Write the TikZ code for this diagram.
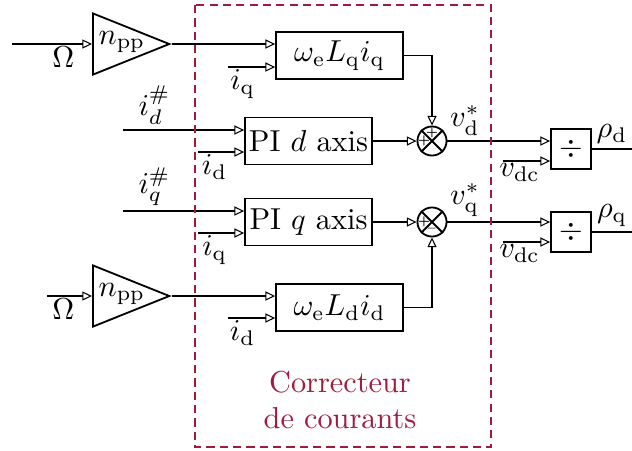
\documentclass[tikz,border=0pt]{standalone}
\usepackage{amsmath,amssymb}
\usepackage{tikz}
\usetikzlibrary{arrows.meta,positioning,calc,shapes.geometric}
\usepackage{xcolor}
\definecolor{framered}{RGB}{160,28,62}
\newcommand{\npp}{\smash{\makebox[0pt]{\kern5.4pt$n_{\mathrm{pp}}$}}}

\begin{document}
\begin{tikzpicture}[
    x=0.33pt, y=-0.33pt,
    blk/.style={
      rectangle, draw, semithick,
      minimum width=41.9pt, minimum height=15.5pt, inner sep=1pt
    },
    divbox/.style={
      rectangle, draw, semithick, minimum size=13.2pt, inner sep=0pt
    },
    gain/.style={
      isosceles triangle, isosceles triangle stretches, draw, semithick,
      minimum width=20.2pt, minimum height=25.2pt, inner sep=0pt
    },
    sumj/.style={
      circle, draw, semithick, minimum size=9.6pt, inner sep=0pt
    },
    sgn/.style={
      font=\fontsize{3.5}{4}\selectfont\bfseries, inner sep=0pt
    },
    sig/.style={
      -{Triangle[open,length=3.2pt,width=3pt,line width=0.35pt]}, semithick
    },
    wire/.style={semithick},
    lbl/.style={inner sep=1.5pt},
    lblb/.style={inner sep=0.6pt}
  ]
  \useasboundingbox (0,0) rectangle (632,450);

  % --- Upper branch: d axis ---
  \node[gain, anchor=west] (g1) at (92,44) {\npp};
  \coordinate (om1) at (12,44);
  \draw[sig] (om1) -- (g1.west)
    node[lblb, pos=0.64, below] {$\Omega$};

  \node[blk] (b1) at (339.5,55.5) {$\omega_{\mathrm{e}}L_{\mathrm{q}}i_{\mathrm{q}}$};
  \draw[sig] (g1.apex) -- (g1.apex -| b1.west);
  \coordinate (iq1) at (228,67);
  \draw[sig] (iq1) -- (iq1 -| b1.west)
    node[lblb, pos=0.31, below] {$i_{\mathrm{q}}$};

  \node[blk] (pid) at (308.5,141) {PI $d$ axis};
  \coordinate (idref) at (123,130);
  \draw[sig] (idref) -- (idref -| pid.west)
    node[lbl, pos=0.26, above] {$i_d^{\#}$};
  \coordinate (id1) at (198,152);
  \draw[sig] (id1) -- (id1 -| pid.west)
    node[lblb, pos=0.36, below] {$i_{\mathrm{d}}$};

  \node[sumj] (sd) at (432,141) {};
  \draw[wire] (sd.north west) -- (sd.south east) (sd.north east) -- (sd.south west);
  \node[sgn] (sd1) at ($(sd)+(0,-8)$) {+};
  \node[sgn] (sd2) at ($(sd)+(-8,0)$) {+};
  \draw[sig] (pid.east) -- (sd.west);
  \draw[sig] (b1.east) -| (sd.north);

  \node[divbox] (divd) at (571,149) {$\div$};
  \draw[sig] (sd.east) -- (sd.east -| divd.west)
    node[lbl, pos=0.17, above] {$v_{\mathrm{d}}^{*}$};
  \coordinate (vdc1) at (503,161);
  \draw[sig] (vdc1) -- (vdc1 -| divd.west)
    node[lblb, pos=0.35, below] {$v_{\mathrm{dc}}$};
  \coordinate (rhod) at (632,149);
  \draw[wire] (divd.east) -- (rhod)
    node[lbl, midway, above] {$\rho_{\mathrm{d}}$};

  % --- Lower branch: q axis ---
  \node[blk] (piq) at (308.5,222) {PI $q$ axis};
  \coordinate (iqref) at (123,211);
  \draw[sig] (iqref) -- (iqref -| piq.west)
    node[lbl, pos=0.26, above] {$i_q^{\#}$};
  \coordinate (iq2) at (198,233);
  \draw[sig] (iq2) -- (iq2 -| piq.west)
    node[lblb, pos=0.36, below] {$i_{\mathrm{q}}$};

  \node[gain, anchor=west] (g2) at (92,296) {\npp};
  \coordinate (om2) at (47,296);
  \draw[sig] (om2) -- (g2.west)
    node[lblb, pos=0.36, below] {$\Omega$};

  \node[blk] (b2) at (339.5,307.5) {$\omega_{\mathrm{e}}L_{\mathrm{d}}i_{\mathrm{d}}$};
  \draw[sig] (g2.apex) -- (g2.apex -| b2.west);
  \coordinate (id2) at (228,318);
  \draw[sig] (id2) -- (id2 -| b2.west)
    node[lblb, pos=0.31, below] {$i_{\mathrm{d}}$};

  \node[sumj] (sq) at (432,222) {};
  \draw[wire] (sq.north west) -- (sq.south east) (sq.north east) -- (sq.south west);
  \node[sgn] (sq1) at ($(sq)+(-8,0)$) {+};
  \node[sgn] (sq2) at ($(sq)+(0,8)$) {--};
  \draw[sig] (piq.east) -- (sq.west);
  \draw[sig] (b2.east) -| (sq.south);

  \node[divbox] (divq) at (571,232) {$\div$};
  \draw[sig] (sq.east) -- (sq.east -| divq.west)
    node[lbl, pos=0.17, above] {$v_{\mathrm{q}}^{*}$};
  \coordinate (vdc2) at (503,242);
  \draw[sig] (vdc2) -- (vdc2 -| divq.west)
    node[lblb, pos=0.35, below] {$v_{\mathrm{dc}}$};
  \coordinate (rhoq) at (632,232);
  \draw[wire] (divq.east) -- (rhoq)
    node[lbl, midway, above] {$\rho_{\mathrm{q}}$};

  % --- Current controller frame ---
  \coordinate (fr1) at (195,5);
  \coordinate (fr2) at (491,447);
  \draw[framered, semithick, dash pattern=on 2.7pt off 1.7pt] (fr1) rectangle (fr2);
  \node[framered, align=center] (frlbl) at (340,400) {Correcteur\\de courants};
\end{tikzpicture}
\end{document}
